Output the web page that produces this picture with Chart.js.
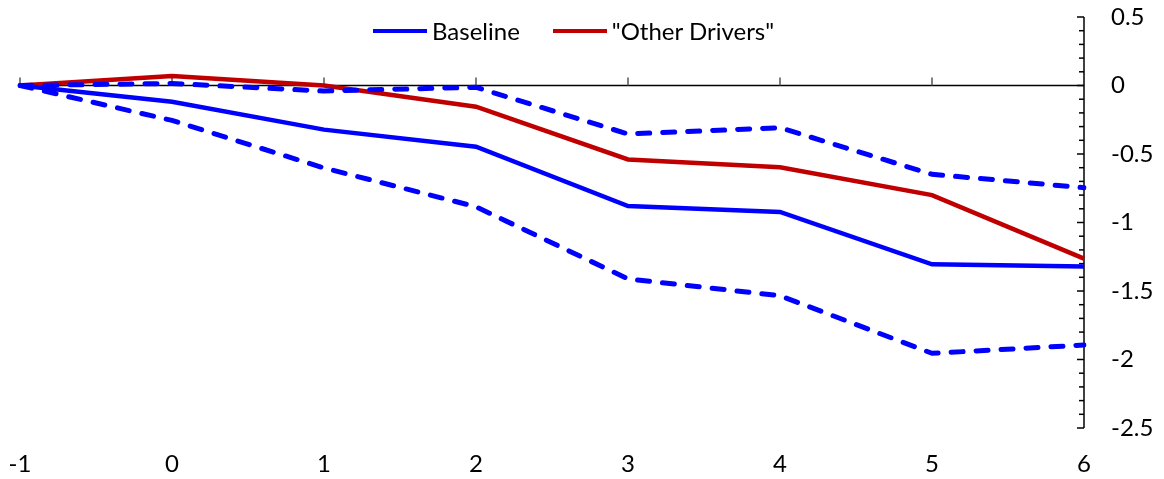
<!DOCTYPE html>
<html>
<head>
<meta charset="utf-8">
<script src="https://cdn.jsdelivr.net/npm/chart.js@4/dist/chart.umd.min.js"></script>
<style>
  body { margin: 0; background: #fff; }
  #wrap { position: relative; width: 1164px; height: 479px; }
  #legend { position: absolute; top: 16px; left: 373px; font-family: Lato, sans-serif; font-size: 24px; color: #000; display: flex; align-items: center; }
  .item { display: flex; align-items: center; margin-right: 33px; }
  .swatch { width: 54px; height: 4px; margin-right: 5px; }
</style>
</head>
<body>
<div id="wrap">
  <canvas id="chart" width="1164" height="479"></canvas>
  <div id="legend"></div>
</div>
<script>
// horizon (quarters)
const labels = ['-1', '0', '1', '2', '3', '4', '5', '6'];

const baseline = [0, -0.118, -0.322, -0.447, -0.88, -0.923, -1.305, -1.322];
const otherDrivers = [0, 0.07, 0, -0.155, -0.54, -0.597, -0.80, -1.264];
const upperBand = [0, 0.015, -0.04, -0.013, -0.354, -0.308, -0.648, -0.746];
const lowerBand = [0, -0.255, -0.602, -0.885, -1.412, -1.534, -1.955, -1.894];

const blue = '#0000FF';
const red = '#C00000';

// axis lines drawn like the Excel version: zero line with marks, y axis with inner ticks
const axisPlugin = {
  id: 'axisPlugin',
  beforeDatasetsDraw(chart) {
    const ctx = chart.ctx;
    const x = chart.scales.x;
    const y = chart.scales.y;
    const y0 = y.getPixelForValue(0);
    ctx.save();
    ctx.strokeStyle = '#000';
    ctx.lineWidth = 1.5;
    ctx.beginPath();
    ctx.moveTo(x.left, y0);
    ctx.lineTo(x.right, y0);
    ctx.stroke();
    ctx.strokeStyle = '#555';
    for (let i = 0; i < labels.length - 1; i++) {
      const px = x.getPixelForValue(i);
      ctx.beginPath();
      ctx.moveTo(px, y0);
      ctx.lineTo(px, y0 - 8);
      ctx.stroke();
    }
    ctx.strokeStyle = '#000';
    ctx.beginPath();
    ctx.moveTo(x.right, y.top);
    ctx.lineTo(x.right, y.bottom);
    ctx.stroke();
    for (let k = 0; k <= 30; k++) {
      const v = -2.5 + k * 0.1;
      const py = y.getPixelForValue(v);
      const len = (k % 5 === 0) ? 7 : 5;
      ctx.beginPath();
      ctx.moveTo(x.right, py);
      ctx.lineTo(x.right - len, py);
      ctx.stroke();
    }
    ctx.restore();
  }
};

function lineSet(label, data, color, dashed) {
  return {
    label: label,
    data: data,
    borderColor: color,
    backgroundColor: color,
    borderWidth: dashed ? 5 : 4.5,
    borderDash: dashed ? [12, 13] : [],
    borderCapStyle: dashed ? 'round' : 'butt',
    pointRadius: 0,
    tension: 0,
    fill: false
  };
}

const datasets = [
  lineSet('Upper', upperBand, blue, true),
  lineSet('Lower', lowerBand, blue, true),
  lineSet('Baseline', baseline, blue, false),
  lineSet('"Other Drivers"', otherDrivers, red, false)
];

new Chart(document.getElementById('chart'), {
  type: 'line',
  data: { labels: labels, datasets: datasets },
  options: {
    responsive: false,
    animation: false,
    layout: { padding: { top: 17, right: 0, left: 20, bottom: 0 } },
    plugins: { legend: { display: false }, tooltip: { enabled: false } },
    scales: {
      x: {
        offset: false,
        grid: { display: false, drawTicks: false },
        border: { display: false },
        ticks: { color: '#000', padding: 22, maxRotation: 0, font: { family: 'Lato', size: 24 } },
        afterFit(scale) {
          scale.height = 51;
          scale.paddingLeft = 0;
          scale.paddingRight = 0;
        }
      },
      y: {
        position: 'right',
        min: -2.5,
        max: 0.5,
        grid: { display: false, drawTicks: false },
        border: { display: false },
        ticks: {
          stepSize: 0.5,
          color: '#000',
          padding: 27,
          font: { family: 'Lato', size: 24 },
          callback: function (v) { return String(Math.round(v * 10) / 10); }
        },
        afterFit(scale) {
          scale.width = 80;
          scale.paddingTop = 0;
          scale.paddingBottom = 0;
        }
      }
    }
  },
  plugins: [axisPlugin]
});

const legend = document.getElementById('legend');
[datasets[2], datasets[3]].forEach(function (ds) {
  const item = document.createElement('div');
  item.className = 'item';
  item.innerHTML = '<div class="swatch" style="background:' + ds.borderColor + '"></div><span>' + ds.label.replace(/"/g, '&quot;') + '</span>';
  legend.appendChild(item);
});
</script>
</body>
</html>
